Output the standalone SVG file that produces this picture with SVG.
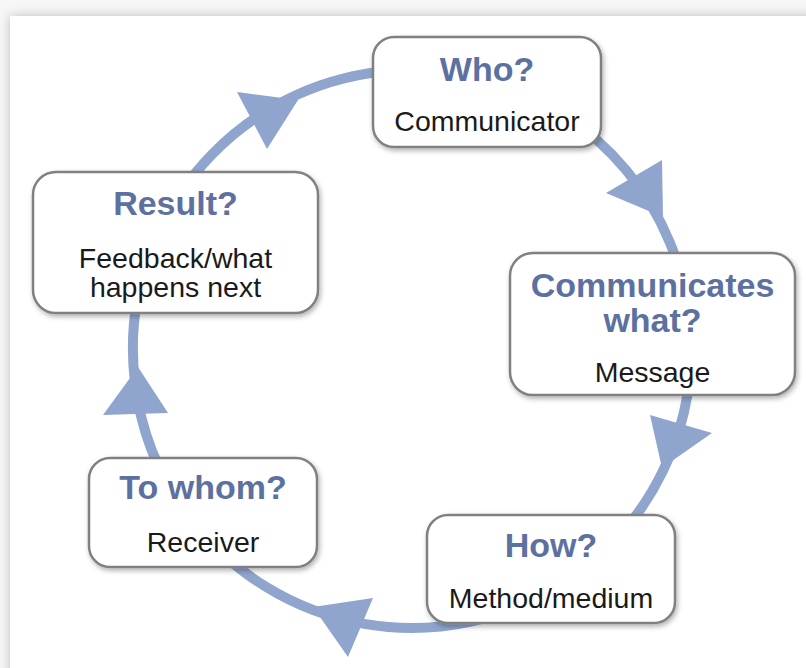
<svg xmlns="http://www.w3.org/2000/svg" width="806" height="668" viewBox="0 0 806 668">
  <defs>
    <filter id="panelShadow" x="-10%" y="-10%" width="120%" height="120%">
      <feGaussianBlur stdDeviation="6"/>
    </filter>
    <filter id="boxShadow" x="-10%" y="-10%" width="125%" height="130%">
      <feDropShadow dx="1.5" dy="2.5" stdDeviation="2.5" flood-color="#000" flood-opacity="0.3"/>
    </filter>
  </defs>
  <style>
    .box { fill: #ffffff; stroke: #808080; stroke-width: 2.5; filter: url(#boxShadow); }
    .title { font-family: "Liberation Sans", Arial, sans-serif; font-weight: bold; font-size: 34px; fill: #5d71a0; text-anchor: middle; }
    .sub { font-family: "Liberation Sans", Arial, sans-serif; font-size: 28.5px; fill: #1a1a1a; text-anchor: middle; }
    .arc { fill: none; stroke: #8fa5cd; stroke-width: 10; }
    .head { fill: #8fa5cd; }
  </style>

  <!-- background / panel -->
  <rect x="0" y="0" width="806" height="668" fill="#f7f7f7"/>
  <rect x="10" y="16" width="820" height="680" fill="#bdbdbd" filter="url(#panelShadow)"/>
  <rect x="10" y="16" width="820" height="680" fill="#ffffff"/>

  <!-- connectors -->
  <g id="connectors">
    <path class="arc" d="M 490.3 81.2 A 279 279 0 0 1 689.5 320.3"/>
    <path class="arc" d="M 689.5 320.3 A 279 279 0 0 1 561.1 584.8"/>
    <path class="arc" d="M 561.1 584.8 A 279 279 0 0 1 192.1 520.8"/>
    <path class="arc" d="M 192.1 520.8 A 279 279 0 0 1 157.7 234.2"/>
    <path class="arc" d="M 157.7 234.2 A 279 279 0 0 1 490.3 81.2"/>
    <polygon class="head" points="606,193 662,160 663,217"/>
    <polygon class="head" points="650,415 712,433 662,468"/>
    <polygon class="head" points="373,598 348,657 313,607"/>
    <polygon class="head" points="103,415 168,413 138,367"/>
    <polygon class="head" points="237,92 267,149 298,100"/>
  </g>

  <g id="who">
    <rect class="box" x="373" y="37" width="228" height="110" rx="21"/>
    <text class="title" x="487" y="81">Who?</text>
    <text class="sub" x="487" y="131">Communicator</text>
  </g>

  <g id="communicates-what">
    <rect class="box" x="510" y="253" width="285" height="142" rx="23"/>
    <text class="title" x="652.5" y="297">Communicates</text>
    <text class="title" x="652.5" y="332">what?</text>
    <text class="sub" x="652.5" y="382">Message</text>
  </g>

  <g id="how">
    <rect class="box" x="427" y="515" width="248" height="108" rx="21"/>
    <text class="title" x="551" y="557">How?</text>
    <text class="sub" x="551" y="608">Method/medium</text>
  </g>

  <g id="to-whom">
    <rect class="box" x="89" y="458" width="228" height="109" rx="21"/>
    <text class="title" x="203" y="499">To whom?</text>
    <text class="sub" x="203" y="552">Receiver</text>
  </g>

  <g id="result">
    <rect class="box" x="33" y="172" width="285" height="141" rx="23"/>
    <text class="title" x="175.5" y="215">Result?</text>
    <text class="sub" x="175.5" y="268">Feedback/what</text>
    <text class="sub" x="175.5" y="297">happens next</text>
  </g>
</svg>
